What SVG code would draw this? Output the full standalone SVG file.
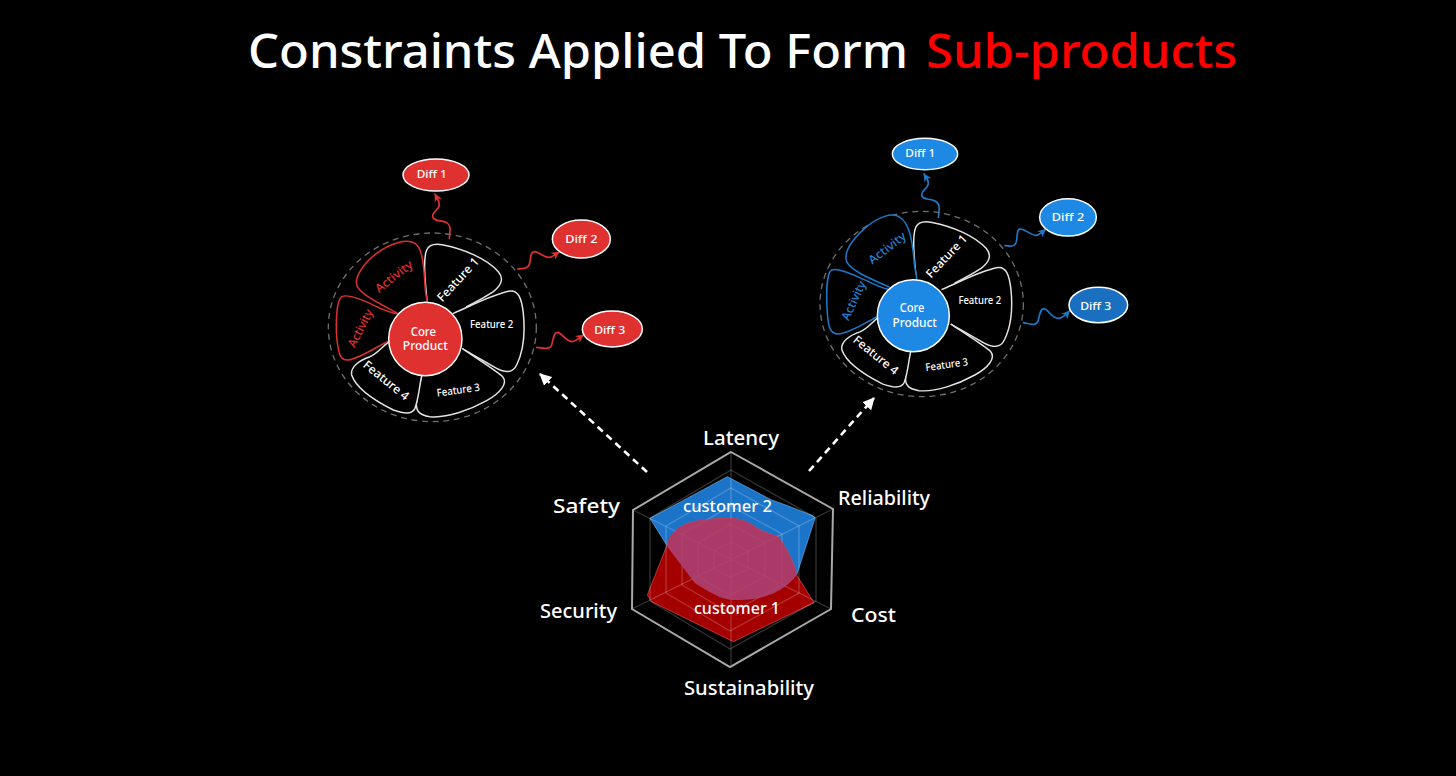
<svg xmlns="http://www.w3.org/2000/svg" xmlns:xlink="http://www.w3.org/1999/xlink" width="1456" height="776" viewBox="0 0 1456 776">
<style>
text{font-family:"Noto Sans","Liberation Sans",sans-serif;fill:#fff}
.title{font-size:47px;font-weight:500}
.lab{font-size:19px;font-weight:500}
.w{font-size:32px;text-anchor:middle;font-weight:500}
.b36{font-size:36px}
.c{font-size:36px;text-anchor:middle;font-weight:500}
.petal{fill:#000;stroke:#e4e4e4;stroke-width:4.5;stroke-linecap:round}
.red .act{fill:#000;stroke:#e03131;stroke-width:4.5}
.blue .act{fill:#000;stroke:#1e78c8;stroke-width:4.5}
.red .atx{fill:#e03131}
.blue .atx{fill:#2680d0}
.red .solid{fill:#e03131;stroke:#fff;stroke-width:4.5}
.blue .solid{fill:#1e88e5;stroke:#fff;stroke-width:4.5}
.ring{fill:none;stroke:#6e6e6e;stroke-width:4;stroke-dasharray:18 14}
.sq{fill:none;stroke-width:5;stroke-linecap:round}
.sq.r{stroke:#e03131}
.sq.b{stroke:#1e78c8}
.dash{fill:none;stroke:#fff;stroke-width:2.6;stroke-dasharray:7 5}
.grid{fill:none;stroke:#fff;stroke-opacity:.2;stroke-width:1.3}
.gridout{fill:none;stroke:#a9a9a9;stroke-width:2}
</style>
<defs>
<marker id="hr" markerUnits="userSpaceOnUse" markerWidth="32" markerHeight="32" refX="24" refY="14" orient="auto"><path d="M2 2 L26 14 L2 26 L8 14Z" fill="#e03131"/></marker>
<marker id="hb" markerUnits="userSpaceOnUse" markerWidth="32" markerHeight="32" refX="24" refY="14" orient="auto"><path d="M2 2 L26 14 L2 26 L8 14Z" fill="#1e78c8"/></marker>
<marker id="hw" markerUnits="userSpaceOnUse" markerWidth="14" markerHeight="14" refX="11" refY="6" orient="auto"><path d="M0 0 L12 6 L0 12Z" fill="#fff"/></marker>
<path id="f1" d="M322 462C316 400 308 330 320 300C328 282 345 280 370 285C430 297 500 325 535 365C552 385 545 405 520 425C490 445 460 460 440 470"/>
<path id="f2" d="M400 490C450 470 510 435 570 423C595 420 605 445 610 490C615 540 612 600 590 645C578 670 555 668 530 655C495 635 460 615 428 597"/>
<path id="f3" d="M428 597C470 625 525 660 548 680C565 700 540 730 500 752C450 780 380 805 330 800C295 795 285 780 290 750C293 720 300 695 305 678"/>
<path id="f4" d="M305 678C298 710 296 745 285 775C275 795 250 790 220 780C170 755 110 720 95 675C90 650 120 630 150 620C175 610 195 580 215 570"/>
</defs>
<rect width="1456" height="776" fill="#000"/>
<g id="title">
<text class="title" x="248" y="68" textLength="660" lengthAdjust="spacingAndGlyphs">Constraints Applied To Form</text>
<text class="title" x="926" y="68" textLength="311" lengthAdjust="spacingAndGlyphs" style="fill:#f00">Sub-products</text>
</g>
<g id="connectors">
<path class="dash" d="M647 472L540 374" marker-end="url(#hw)"/>
<path class="dash" d="M809 471L874 398" marker-end="url(#hw)"/>
<g transform="translate(320 150) scale(.33333)">
<path class="sq r" d="M388 265C390 240 395 228 380 218C365 210 340 215 338 200C336 185 358 178 358 165C358 150 350 142 345 132" marker-end="url(#hr)"/>
<path class="sq r" d="M593 357C615 355 628 355 630 335C632 315 635 303 645 305C660 308 675 325 690 322C700 320 708 312 717 306" marker-end="url(#hr)"/>
<path class="sq r" d="M650 592C670 595 690 600 695 585C700 565 702 547 712 547C725 548 735 572 755 575C765 575 780 562 790 555" marker-end="url(#hr)"/>
</g>
<g transform="translate(810 130) scale(.33333)">
<path class="sq b" d="M385 262C388 235 392 222 375 213C360 205 335 210 335 195C335 180 355 175 355 160C355 148 347 140 342 132" marker-end="url(#hb)"/>
<path class="sq b" d="M585 347C605 350 618 350 620 330C622 310 622 295 632 297C650 300 665 318 680 316C690 314 698 305 706 298" marker-end="url(#hb)"/>
<path class="sq b" d="M640 578C660 582 680 590 685 570C690 550 692 535 702 536C715 538 725 565 745 565C755 565 770 552 778 543" marker-end="url(#hb)"/>
</g>
</g>
<g id="product-red" class="red" transform="translate(320 150) scale(.33333)">
<ellipse id="red-boundary" class="ring" cx="337" cy="532" rx="312" ry="283"/>
<g id="red-feature-1"><use href="#f1" class="petal"/><text class="w b36" transform="translate(423 397) rotate(-47)" textLength="165" lengthAdjust="spacingAndGlyphs">Feature 1</text></g>
<g id="red-feature-2"><use href="#f2" class="petal"/><text class="w" x="515" y="535" textLength="130" lengthAdjust="spacingAndGlyphs">Feature 2</text></g>
<g id="red-feature-3"><use href="#f3" class="petal"/><text class="w" transform="translate(416 731) rotate(-8)" textLength="130" lengthAdjust="spacingAndGlyphs">Feature 3</text></g>
<g id="red-feature-4"><use href="#f4" class="petal"/><text class="w b36" transform="translate(191 701) rotate(39)" textLength="165" lengthAdjust="spacingAndGlyphs">Feature 4</text></g>
<g id="red-activity-1"><path class="act" d="M232 490C190 465 130 440 112 410C100 385 130 340 170 310C210 280 260 265 285 280C310 295 312 360 316 420C318 440 322 455 322 462"/><text class="w b36 atx" transform="translate(229 389) rotate(-38)" textLength="132" lengthAdjust="spacingAndGlyphs">Activity</text></g>
<g id="red-activity-2"><path class="act" d="M215 568C170 590 120 625 85 630C60 632 55 610 50 560C47 510 50 450 65 440C85 430 130 450 170 470C195 482 220 490 235 492"/><text class="w b36 atx" transform="translate(132 540) rotate(-63)" textLength="123" lengthAdjust="spacingAndGlyphs">Activity</text></g>
<g id="red-core"><circle class="solid" cx="316" cy="567" r="110"/><text class="c" x="310" y="557" textLength="76" lengthAdjust="spacingAndGlyphs">Core</text><text class="c" x="316" y="601" textLength="135" lengthAdjust="spacingAndGlyphs">Product</text></g>
<g id="red-diff-1"><ellipse class="solid" cx="348" cy="75" rx="99" ry="48"/><text class="w" x="335" y="85" textLength="90" lengthAdjust="spacingAndGlyphs">Diff 1</text></g>
<g id="red-diff-2"><ellipse class="solid" cx="784" cy="267" rx="87" ry="57"/><text class="w" x="784" y="279" textLength="97" lengthAdjust="spacingAndGlyphs">Diff 2</text></g>
<g id="red-diff-3"><ellipse class="solid" cx="877" cy="537" rx="90" ry="54"/><text class="w" x="869" y="551" textLength="93" lengthAdjust="spacingAndGlyphs">Diff 3</text></g>
</g>
<g id="product-blue" class="blue" transform="translate(810 130) scale(.33333)">
<ellipse id="blue-boundary" class="ring" cx="335" cy="522" rx="305" ry="278"/>
<g transform="translate(2 -2) scale(.985 .98)">
<g id="blue-feature-1"><use href="#f1" class="petal"/><text class="w b36" transform="translate(423 397) rotate(-47)" textLength="165" lengthAdjust="spacingAndGlyphs">Feature 1</text></g>
<g id="blue-feature-2"><use href="#f2" class="petal"/><text class="w" x="515" y="535" textLength="130" lengthAdjust="spacingAndGlyphs">Feature 2</text></g>
<g id="blue-feature-3"><use href="#f3" class="petal"/><text class="w" transform="translate(416 731) rotate(-8)" textLength="130" lengthAdjust="spacingAndGlyphs">Feature 3</text></g>
<g id="blue-feature-4"><use href="#f4" class="petal"/><text class="w b36" transform="translate(191 701) rotate(39)" textLength="165" lengthAdjust="spacingAndGlyphs">Feature 4</text></g>
</g>
<g id="blue-activity-1"><path class="act" d="M240 472C190 450 125 425 110 395C100 365 130 325 170 290C205 262 245 245 270 262C300 280 308 340 313 400C316 425 320 440 320 448"/><text class="w b36 atx" transform="translate(239 364) rotate(-38)" textLength="132" lengthAdjust="spacingAndGlyphs">Activity</text></g>
<g id="blue-activity-2"><path class="act" d="M212 555C170 575 120 610 85 612C60 612 55 590 52 550C48 490 50 430 65 420C85 412 130 435 170 452C195 465 220 475 235 478"/><text class="w b36 atx" transform="translate(142 517) rotate(-65)" textLength="125" lengthAdjust="spacingAndGlyphs">Activity</text></g>
<g id="blue-core"><circle class="solid" cx="310" cy="557" r="108"/><text class="c" x="306" y="547" textLength="74" lengthAdjust="spacingAndGlyphs">Core</text><text class="c" x="314" y="590" textLength="133" lengthAdjust="spacingAndGlyphs">Product</text></g>
<g id="blue-diff-1"><ellipse class="solid" cx="345" cy="72" rx="98" ry="47"/><text class="w" x="331" y="82" textLength="90" lengthAdjust="spacingAndGlyphs">Diff 1</text></g>
<g id="blue-diff-2"><ellipse class="solid" cx="774" cy="262" rx="85" ry="56"/><text class="w" x="774" y="273" textLength="97" lengthAdjust="spacingAndGlyphs">Diff 2</text></g>
<g id="blue-diff-3"><ellipse class="solid" cx="865" cy="525" rx="88" ry="53" style="fill:#1a6fc0"/><text class="w" x="857" y="540" textLength="93" lengthAdjust="spacingAndGlyphs">Diff 3</text></g>
</g>
<g id="radar">
<g transform="translate(530 420) scale(.33333)">
<path id="customer-2-area" d="M592 170L360 295L410 375L495 490C530 510 570 540 610 540C680 540 750 530 800 465L855 295L850 288L775 258L725 240Z" fill="#1b74c8" stroke="#6db0ea" stroke-width="2"/>
<path id="customer-1-area" d="M600 295C560 295 520 298 490 305C460 312 430 330 418 355L410 378L352 525L365 545L610 665L852 548L800 465C790 420 770 385 745 350L720 342L690 330C670 315 640 295 600 295Z" fill="#a40000" stroke="#e05050" stroke-width="2"/>
</g>
<g id="radar-grid">
<path class="grid" d="M731 452V667M633 510L831 609M833 509L632 609"/>
<path class="grid" d="M731 470L816 518V601L730 649L650 601V518Z"/>
<path class="grid" d="M731 488L799 526V593L730 631L666 593V526Z"/>
<path class="grid" d="M731 506L782 534V585L730 613L682 585V534Z"/>
<path class="grid" d="M731 524L765 543V577L730 595L698 577V543Z"/>
<path class="grid" d="M731 542L748 551V569L730 577L714 569V551Z"/>
<path class="gridout" d="M731 452L833 509L831 609L730 667L632 609L633 510Z"/>
</g>
<path id="overlap" transform="translate(530 420) scale(.33333)" d="M600 295C560 295 520 298 490 305C460 312 430 330 418 355L410 378L495 490C530 510 570 540 610 540C680 540 750 530 800 465C790 420 770 385 745 350L720 342L690 330C670 315 640 295 600 295Z" fill="#ad4276" fill-opacity=".88"/>
<text class="lab" x="703" y="445" textLength="76" lengthAdjust="spacingAndGlyphs">Latency</text>
<text class="lab" x="838" y="505" textLength="92" lengthAdjust="spacingAndGlyphs">Reliability</text>
<text class="lab" x="553" y="513" textLength="67" lengthAdjust="spacingAndGlyphs">Safety</text>
<text class="lab" x="540" y="618" textLength="77" lengthAdjust="spacingAndGlyphs">Security</text>
<text class="lab" x="851" y="622" textLength="45" lengthAdjust="spacingAndGlyphs">Cost</text>
<text class="lab" x="684" y="695" textLength="130" lengthAdjust="spacingAndGlyphs">Sustainability</text>
<text x="683" y="512" font-size="17" font-weight="500" textLength="89" lengthAdjust="spacingAndGlyphs">customer 2</text>
<text x="694" y="614" font-size="17" font-weight="500" textLength="86" lengthAdjust="spacingAndGlyphs">customer 1</text>
</g>
</svg>
